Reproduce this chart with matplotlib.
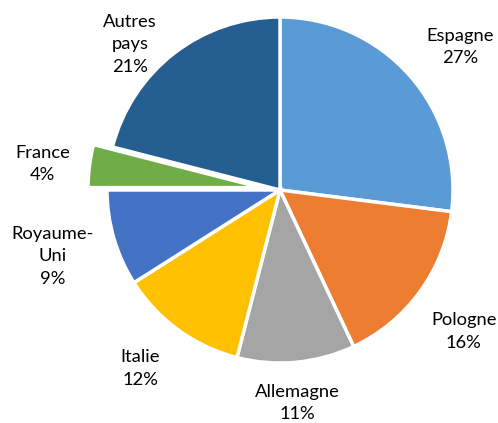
import numpy as np
import matplotlib
matplotlib.use("Agg")
import matplotlib.pyplot as plt

categories = ["Espagne", "Pologne", "Allemagne", "Italie", "Royaume-\nUni", "France", "Autres\npays"]
values = [27, 16, 11, 12, 9, 4, 21]
colors = ["#5B9BD5", "#ED7D31", "#A5A5A5", "#FFC000", "#4472C4", "#70AD47", "#255E91"]
explode = [0, 0, 0, 0, 0, 0.11, 0]
# label placement: radial distance (in radii) and angular nudge (deg)
label_dist = [1.33, 1.34, 1.235, 1.31, 1.37, 1.27, 1.21]
label_nudge = [-2.9, -1.6, -0.8, -2.0, 0.0, 1.0, 8.0]

plt.rcParams['font.family'] = ['Lato', 'DejaVu Sans']

fig = plt.figure(figsize=(4.98, 4.23), dpi=100)
ax = fig.add_axes([0, 0, 1, 1])
wedges, _ = ax.pie(values, colors=colors, explode=explode, startangle=90,
                   counterclock=False,
                   wedgeprops=dict(edgecolor="white", linewidth=2.5))
total = sum(values)
for w, cat, v, d, nd in zip(wedges, categories, values, label_dist, label_nudge):
    ang = np.deg2rad((w.theta1 + w.theta2) / 2 + nd)
    cx, cy = w.center
    x = cx + d * np.cos(ang)
    y = cy + d * np.sin(ang)
    ax.text(x, y, f"{cat}\n{round(100 * v / total)}%", ha="center", va="center",
            fontsize=13.2, linespacing=1.5, color="#000000")

R = 173.0
ax.set_aspect("equal")
ax.set_xlim(-280 / R, (498 - 280) / R)
ax.set_ylim(-(423 - 190) / R, 190 / R)
ax.axis("off")
fig.savefig("out.png", dpi=100, facecolor="white")
